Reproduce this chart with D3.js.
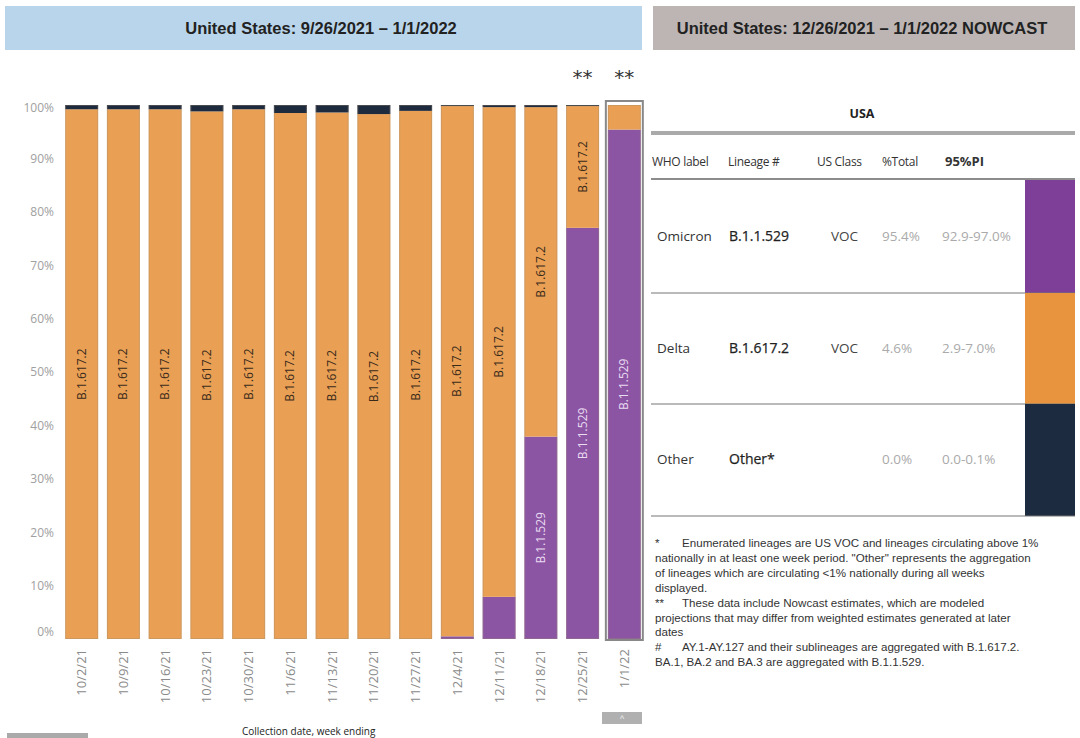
<!DOCTYPE html>
<html><head><meta charset="utf-8">
<script src="https://cdn.jsdelivr.net/npm/d3@7"></script>
<style>
html,body{margin:0;padding:0;background:#fff;overflow:hidden;}
svg{display:block;}
</style></head>
<body>
<svg id="c" width="1080" height="738"></svg>
<script>
// ---- data ----
const weeks = ["10/2/21","10/9/21","10/16/21","10/23/21","10/30/21","11/6/21","11/13/21","11/20/21","11/27/21","12/4/21","12/11/21","12/18/21","12/25/21","1/1/22"];
const omicron = [0,0,0,0,0,0,0,0,0,0.5,7.9,37.9,77.0,95.4];
const delta   = [99.2,99.2,99.2,98.8,99.2,98.5,98.6,98.3,98.9,99.3,91.7,61.7,22.8,4.6];
const other   = [0.8,0.8,0.8,1.2,0.8,1.5,1.4,1.7,1.1,0.2,0.4,0.4,0.2,0.0];
const yTicks  = [0,10,20,30,40,50,60,70,80,90,100];
const nowcastWeeks = ["12/25/21","1/1/22"];
const tableHeaders = ["WHO label","Lineage #","US Class","%Total","95%PI"];
const whoLabels = ["Omicron","Delta","Other"];
const lineages = ["B.1.1.529","B.1.617.2","Other*"];
const usClass = ["VOC","VOC",""];
const pctTotal = ["95.4%","4.6%","0.0%"];
const pi95 = ["92.9-97.0%","2.9-7.0%","0.0-0.1%"];
const footnotes = [
  ["*","Enumerated lineages are US VOC and lineages circulating above 1%"],
  ["","nationally in at least one week period. \"Other\" represents the aggregation"],
  ["","of lineages which are circulating <1% nationally during all weeks"],
  ["","displayed."],
  ["**","These data include Nowcast estimates, which are modeled"],
  ["","projections that may differ from weighted estimates generated at later"],
  ["","dates"],
  ["#","AY.1-AY.127 and their sublineages are aggregated with B.1.617.2."],
  ["","BA.1, BA.2 and BA.3 are aggregated with B.1.1.529."]
];

const colors = {omicron:"#8b55a3", delta:"#e9a055", other:"#1e2a3e"};
const swatch = ["#7d3f98","#e8943f","#1d2b40"];

const svg = d3.select("#c");
const font = "'Liberation Sans', Arial, sans-serif";
const font2 = "'Open Sans', 'Noto Sans', sans-serif";

// ---- banners ----
svg.append("rect").attr("x",5).attr("y",6).attr("width",637).attr("height",44).attr("fill","#b9d5eb");
svg.append("text").attr("x",321).attr("y",34).attr("text-anchor","middle")
  .attr("font-family",font).attr("font-weight","bold").attr("font-size",16.5).attr("fill","#222")
  .text("United States: 9/26/2021 \u2013 1/1/2022");
svg.append("rect").attr("x",653).attr("y",6).attr("width",422).attr("height",44).attr("fill","#bcb5b4");
svg.append("text").attr("x",862).attr("y",34).attr("text-anchor","middle")
  .attr("font-family",font).attr("font-weight","bold").attr("font-size",16.5).attr("fill","#222")
  .text("United States: 12/26/2021 \u2013 1/1/2022 NOWCAST");

// ---- chart ----
const x = d3.scaleBand().domain(weeks).range([61,645]).paddingInner(0.21).paddingOuter(0.1);
const y = d3.scaleLinear().domain([0,100]).range([639,105]);

const rows = weeks.map((w,i)=>({week:w, omicron:omicron[i], delta:delta[i], other:other[i]}));
const keys = ["omicron","delta","other"];
const stack = d3.stack().keys(keys)(rows);

const g = svg.append("g");
stack.forEach(layer=>{
  g.selectAll(null).data(layer).enter().append("rect")
    .attr("x",d=>x(d.data.week))
    .attr("width",x.bandwidth())
    .attr("y",d=>y(d[1]))
    .attr("height",d=>Math.max(0,y(d[0])-y(d[1])))
    .attr("fill",colors[layer.key]);
});
// faint bar outlines
g.selectAll(null).data(rows).enter().append("rect")
  .attr("x",d=>x(d.week)+0.5).attr("width",x.bandwidth()-1)
  .attr("y",y(100)+0.5).attr("height",y(0)-y(100)-1)
  .attr("fill","none").attr("stroke","#9a8a70").attr("stroke-opacity",0.35).attr("stroke-width",1);

// selection highlight on last bar
const last = weeks[weeks.length-1];
svg.append("rect").attr("x",x(last)-2).attr("y",y(100)-4).attr("width",x.bandwidth()+4).attr("height",y(0)-y(100)+5)
  .attr("fill","none").attr("stroke","#888").attr("stroke-width",2);

// segment labels
const labelData = [];
stack.forEach(layer=>{
  layer.forEach(d=>{
    const h = y(d[0])-y(d[1]);
    if ((layer.key==="delta"||layer.key==="omicron") && h>80) {
      labelData.push({week:d.data.week, key:layer.key, cy:(y(d[0])+y(d[1]))/2});
    }
  });
});
svg.selectAll(null).data(labelData).enter().append("text")
  .attr("transform",d=>`translate(${x(d.week)+x.bandwidth()/2+4},${d.cy}) rotate(-90)`)
  .attr("text-anchor","middle")
  .attr("font-family",font2).attr("font-size",12)
  .attr("fill",d=>d.key==="delta"?"#3a2a1a":"#eadcf2")
  .text(d=>d.key==="delta"?"B.1.617.2":"B.1.1.529");

// y axis
const yAxis = d3.axisLeft(y).tickValues(yTicks).tickFormat(d=>d+"%").tickSize(0).tickPadding(0);
const ya = svg.append("g").attr("transform","translate(54,0)").call(yAxis);
ya.select(".domain").remove();
ya.selectAll("text").attr("font-family",font2).attr("font-size",12).attr("fill","#a0a0a0")
  .attr("dy",d=>d===0?"-0.3em":(d===100?"0.55em":"0.32em"));

// x axis
const xAxis = d3.axisBottom(x).tickSize(0).tickPadding(0);
const xa = svg.append("g").attr("transform","translate(0,647)").call(xAxis);
xa.select(".domain").remove();
xa.selectAll("text").attr("font-family",font2).attr("font-size",13).attr("fill","#8a8a8a")
  .attr("transform","rotate(-90)").attr("text-anchor","end").attr("x",0).attr("y",0).attr("dy","0.35em").attr("dx","-2");

// nowcast asterisks
svg.selectAll(null).data(nowcastWeeks).enter().append("text")
  .attr("x",d=>x(d)+x.bandwidth()/2).attr("y",84).attr("text-anchor","middle")
  .attr("font-family","'DejaVu Sans', sans-serif").attr("font-size",20).attr("fill","#333")
  .text("**");

// ---- table ----
const tg = svg.append("g");
tg.append("text").attr("x",862).attr("y",118).attr("text-anchor","middle")
  .attr("font-family",font2).attr("font-weight","bold").attr("font-size",12.5).attr("fill","#222").text("USA");
tg.append("rect").attr("x",651).attr("y",131).attr("width",424).attr("height",4).attr("fill","#aaa");
const hx = [652,728,817,882,945];
tableHeaders.forEach((h,i)=>{
  tg.append("text").attr("x",hx[i]).attr("y",166)
    .attr("font-family",font2).attr("font-size",i===4?13:12)
    .attr("font-weight",i===4?"bold":"normal").attr("fill","#333").attr("letter-spacing",i===4?0:-0.3).text(h);
});
const rowTop = [180,293,404];
const rowBot = [293,404,516];
tg.append("line").attr("x1",651).attr("x2",1075).attr("y1",179).attr("y2",179).attr("stroke","#666").attr("stroke-width",1.5);
whoLabels.forEach((w,i)=>{
  const cy = (rowTop[i]+rowBot[i])/2 + 4;
  tg.append("rect").attr("x",1025).attr("y",rowTop[i]).attr("width",50).attr("height",rowBot[i]-rowTop[i]).attr("fill",swatch[i]);
  tg.append("line").attr("x1",651).attr("x2",1075).attr("y1",rowBot[i]).attr("y2",rowBot[i]).attr("stroke","#777").attr("stroke-width",1.2);
  tg.append("text").attr("x",657).attr("y",cy).attr("font-family",font2).attr("font-size",13.5).attr("fill","#333").text(w);
  tg.append("text").attr("x",729).attr("y",cy).attr("font-family",font2).attr("font-size",14).attr("fill","#1f1f1f").attr("stroke","#1f1f1f").attr("stroke-width",0.25).text(lineages[i]);
  tg.append("text").attr("x",858).attr("y",cy).attr("text-anchor","end").attr("font-family",font2).attr("font-size",13.5).attr("fill","#444").text(usClass[i]);
  tg.append("text").attr("x",882).attr("y",cy).attr("font-family",font2).attr("font-size",13.5).attr("fill","#aaa").text(pctTotal[i]);
  tg.append("text").attr("x",942).attr("y",cy).attr("font-family",font2).attr("font-size",13.5).attr("fill","#aaa").text(pi95[i]);
});

// footnotes
footnotes.forEach((f,i)=>{
  const yy = 547 + i*14.9;
  if (f[0]) tg.append("text").attr("x",655).attr("y",yy).attr("font-family",font).attr("font-size",11.6).attr("fill","#333").text(f[0]);
  tg.append("text").attr("x",f[0]?682:655).attr("y",yy).attr("font-family",font).attr("font-size",11.6).attr("fill","#333").text(f[1]);
});

// bottom controls
svg.append("rect").attr("x",602).attr("y",712).attr("width",40).attr("height",12).attr("fill","#b0b0b0");
svg.append("text").attr("x",622).attr("y",722).attr("text-anchor","middle").attr("font-family",font).attr("font-size",9).attr("fill","#eee").text("^");
svg.append("rect").attr("x",7).attr("y",733).attr("width",81).attr("height",6).attr("fill","#aaa");
svg.append("text").attr("x",242).attr("y",735).attr("font-family",font2).attr("font-size",10).attr("fill","#222").text("Collection date, week ending");
</script>
</body></html>
